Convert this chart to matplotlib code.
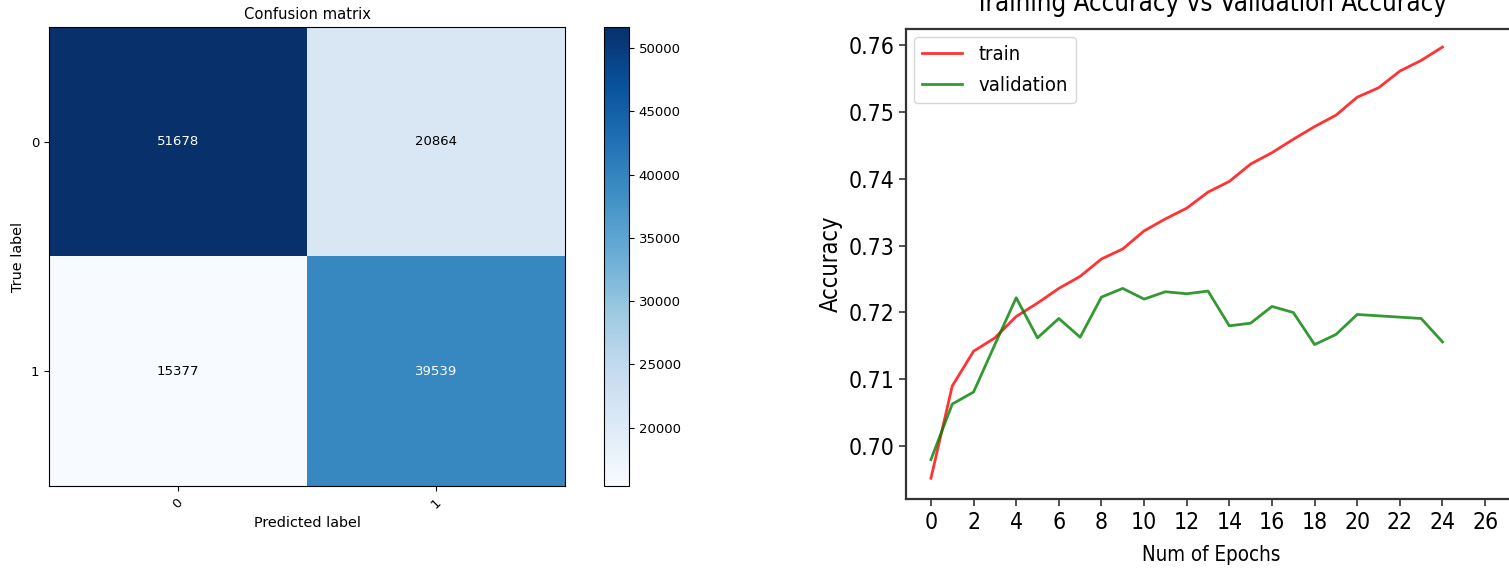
import numpy as np
import matplotlib
matplotlib.use("Agg")
import matplotlib.pyplot as plt
from matplotlib import font_manager

# confusion matrix values
class_labels = ["0", "1"]
cm = np.array([[51678, 20864],
               [15377, 39539]])

# training history
epochs = list(range(25))
train_acc = [0.6952, 0.7090, 0.7142, 0.7162, 0.7194, 0.7214, 0.7236, 0.7254,
             0.7280, 0.7295, 0.7322, 0.7340, 0.7356, 0.7380, 0.7396, 0.7422,
             0.7439, 0.7459, 0.7478, 0.7495, 0.7522, 0.7536, 0.7561, 0.7577,
             0.7597]
val_acc = [0.6980, 0.7063, 0.7081, 0.7152, 0.7222, 0.7162, 0.7191, 0.7163,
           0.7223, 0.7236, 0.7220, 0.7231, 0.7228, 0.7232, 0.7180, 0.7184,
           0.7209, 0.7200, 0.7152, 0.7167, 0.7197, 0.7195, 0.7193, 0.7191,
           0.7156]

# look for a condensed sans for the right panel
def find_narrow():
    fl = font_manager.fontManager.ttflist
    def regular(f):
        return f.style == "normal" and str(f.weight) in ("400", "normal", "regular", "book")
    for f in fl:
        if f.name.startswith("DejaVu Sans") and "ondensed" in (f.name + f.fname + str(f.stretch)) and regular(f) and "Mono" not in f.name:
            return f.fname
    for f in fl:
        if "Narrow" in f.name and regular(f):
            return f.fname
    for f in fl:
        if ("ondensed" in f.name or "ondensed" in f.fname) and regular(f):
            return f.fname
    return None

narrow_file = find_narrow()
if narrow_file:
    narrow = font_manager.FontProperties(fname=narrow_file)
    sz_tick, sz_xlab, sz_ylab, sz_leg, sz_title = 16.5, 14.8, 17, 14.5, 18.5
else:
    narrow = font_manager.FontProperties(family="DejaVu Sans")
    sz_tick, sz_xlab, sz_ylab, sz_leg, sz_title = 14.5, 13, 16, 13, 17

def nf(size):
    p = narrow.copy()
    p.set_size(size)
    return p

W, H = 1509, 569
fig = plt.figure(figsize=(W / 100, H / 100), dpi=100)

def box(x0, y0, x1, y1):
    return [x0 / W, 1 - y1 / H, (x1 - x0) / W, (y1 - y0) / H]

# ---- confusion matrix ----
ax1 = fig.add_axes(box(49, 27, 565, 486))
cax = fig.add_axes(box(604, 27, 629, 486))
im = ax1.imshow(cm, interpolation="nearest", cmap=plt.cm.Blues, aspect="auto")
ax1.set_title("Confusion matrix", fontsize=10.6)
cb = fig.colorbar(im, cax=cax)
cb.ax.tick_params(labelsize=9.5)
ticks = np.arange(len(class_labels))
ax1.set_xticks(ticks)
ax1.set_xticklabels(class_labels, rotation=45, fontsize=9.5)
ax1.set_yticks(ticks)
ax1.set_yticklabels(class_labels, fontsize=9.5)
thresh = cm.max() / 2.
for i in range(cm.shape[0]):
    for j in range(cm.shape[1]):
        ax1.text(j, i, format(cm[i, j], "d"), ha="center", va="center", fontsize=9.5,
                 color="white" if cm[i, j] > thresh else "black")
ax1.set_ylabel("True label", fontsize=10.4)
ax1.set_xlabel("Predicted label", fontsize=10.4)

# ---- accuracy curves ----
ax2 = fig.add_axes(box(906, 29, 1516, 499))
ax2.plot(epochs, train_acc, color="r", alpha=0.8, linewidth=2, label="train")
ax2.plot(epochs, val_acc, color="g", alpha=0.8, linewidth=2, label="validation")
ax2.set_xticks(np.arange(0, 27, 2))
ax2.set_xlim(-1.17, 27.45)
ax2.set_ylim(0.6921, 0.7624)
ax2.set_yticks([0.70, 0.71, 0.72, 0.73, 0.74, 0.75, 0.76])
ax2.set_yticklabels(["%.2f" % v for v in ax2.get_yticks()])
for lab in ax2.get_xticklabels() + ax2.get_yticklabels():
    lab.set_fontproperties(nf(sz_tick))
ax2.tick_params(length=5, width=1.2, color="#333333")
for s in ax2.spines.values():
    s.set_linewidth(1.6)
    s.set_color("#333333")
ax2.set_title("Training Accuracy vs Validation Accuracy", fontproperties=nf(sz_title), pad=13)
ax2.set_xlabel("Num of Epochs", fontproperties=nf(sz_xlab), labelpad=8)
ax2.set_ylabel("Accuracy", fontproperties=nf(sz_ylab))
ax2.legend(loc="upper left", prop=nf(sz_leg), borderaxespad=0.4, labelspacing=0.6)

fig.savefig("out.png", dpi=100)
